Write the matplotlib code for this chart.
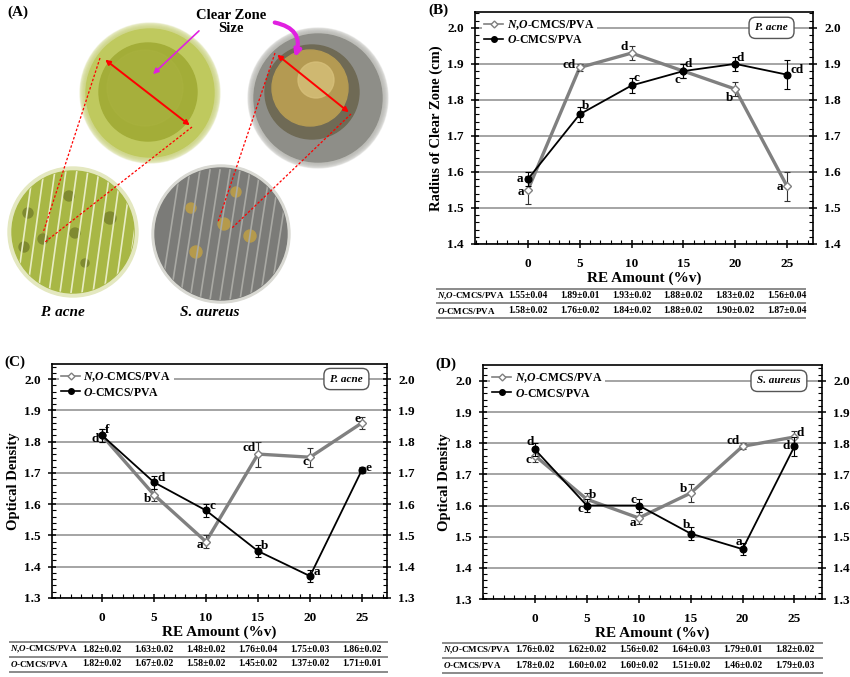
import numpy as np
import matplotlib
matplotlib.use('Agg')
import matplotlib.pyplot as plt
from matplotlib.lines import Line2D
from matplotlib.patches import Circle, FancyArrowPatch
import matplotlib.transforms as mtransforms
from matplotlib.ticker import MultipleLocator, FormatStrFormatter

plt.rcParams.update({
    'font.family': ['Liberation Serif', 'DejaVu Serif'],
    'font.weight': 'bold',
    'mathtext.fontset': 'custom',
    'mathtext.it': 'Liberation Serif:italic:bold',
    'mathtext.rm': 'Liberation Serif:bold',
    'mathtext.bf': 'Liberation Serif:bold',
})

# ---------------- data ----------------
re_amount = [0, 5, 10, 15, 20, 25]
series_labels = [r'$N$,$O$-CMCS/PVA', r'$O$-CMCS/PVA']

# (B) radius of clear zone, P. acne
b_no = [1.55, 1.89, 1.93, 1.88, 1.83, 1.56]
b_no_err = [0.04, 0.01, 0.02, 0.02, 0.02, 0.04]
b_o = [1.58, 1.76, 1.84, 1.88, 1.90, 1.87]
b_o_err = [0.02, 0.02, 0.02, 0.02, 0.02, 0.04]
b_no_letters = ['a', 'cd', 'd', 'c', 'b', 'a']
b_o_letters = ['a', 'b', 'c', 'd', 'd', 'cd']

# (C) optical density, P. acne
c_no = [1.82, 1.63, 1.48, 1.76, 1.75, 1.86]
c_no_err = [0.02, 0.02, 0.02, 0.04, 0.03, 0.02]
c_o = [1.82, 1.67, 1.58, 1.45, 1.37, 1.71]
c_o_err = [0.02, 0.02, 0.02, 0.02, 0.02, 0.01]
c_no_letters = ['d', 'b', 'a', 'cd', 'c', 'e']
c_o_letters = ['f', 'd', 'c', 'b', 'a', 'e']

# (D) optical density, S. aureus
d_no = [1.76, 1.62, 1.56, 1.64, 1.79, 1.82]
d_no_err = [0.02, 0.02, 0.02, 0.03, 0.01, 0.02]
d_o = [1.78, 1.60, 1.60, 1.51, 1.46, 1.79]
d_o_err = [0.02, 0.02, 0.02, 0.02, 0.02, 0.03]
d_no_letters = ['c', 'b', 'a', 'b', 'cd', 'd']
d_o_letters = ['d', 'c', 'c', 'b', 'a', 'd']

# letter placement offsets (pixels)
b_no_off = [(-7, -2), (-11, 2), (-7, 6), (-6, -9), (-6, -9), (-7, -1)]
b_o_off = [(-8, 0), (6, 8), (5, 7), (5, 7), (5, 6), (10, 5)]
c_no_off = [(-7, -4), (-6, -4), (-6, -3), (-9, 6), (-5, -5), (-5, 4)]
c_o_off = [(5, 5), (7, 4), (6, 4), (7, 5), (7, 4), (6, 2)]
d_no_off = [(-6, -4), (6, 4), (-6, -5), (-7, 4), (-9, 5), (6, 4)]
d_o_off = [(-5, 7), (-6, -3), (-5, 6), (-4, 9), (-4, 7), (-8, 0)]

W, H = 850, 677
fig = plt.figure(figsize=(W / 100, H / 100), dpi=100)
fig.patch.set_facecolor('white')

GRAY = '#808080'


def rect(l, r, t, b):
    return [l / W, 1 - b / H, (r - l) / W, (b - t) / H]


def fline(x0, x1, y, color='#8a8a8a', lw=1.4):
    fig.add_artist(Line2D([x0 / W, x1 / W], [1 - y / H, 1 - y / H],
                          transform=fig.transFigure, color=color, lw=lw))


def panel(box, xlim, ylim, ylabel, organism, no, no_err, o, o_err,
          no_let, o_let, no_off, o_off, table, tag, tagpos):
    ax = fig.add_axes(rect(*box))
    ax.set_xlim(*xlim)
    ax.set_ylim(*ylim)
    for y in np.arange(1.3, 2.01, 0.1):
        if ylim[0] - 1e-6 <= y:
            ax.axhline(y, color='#8c8c8c', lw=1.1, zorder=0)
    ax.plot(re_amount, no, color=GRAY, lw=2.4, zorder=2)
    ax.errorbar(re_amount, no, yerr=no_err, fmt='none', ecolor='#333333',
                elinewidth=0.8, capsize=2.2, capthick=0.8, zorder=3)
    ax.plot(re_amount, no, ls='none', marker='D', ms=4.0, mfc='white',
            mec=GRAY, mew=1.0, zorder=4)
    ax.plot(re_amount, o, color='black', lw=1.3, zorder=5)
    ax.errorbar(re_amount, o, yerr=o_err, fmt='none', ecolor='black',
                elinewidth=0.8, capsize=2.2, capthick=0.8, zorder=5)
    ax.plot(re_amount, o, ls='none', marker='o', ms=4.8, mfc='black',
            mec='black', zorder=6)
    for xv, yv, lt, off in zip(re_amount, no, no_let, no_off):
        ax.annotate(lt, (xv, yv), xytext=off, textcoords='offset pixels',
                    ha='center', va='center', fontsize=9.5,
                    fontweight='bold', zorder=7)
    for xv, yv, lt, off in zip(re_amount, o, o_let, o_off):
        ax.annotate(lt, (xv, yv), xytext=off, textcoords='offset pixels',
                    ha='center', va='center', fontsize=9.5,
                    fontweight='bold', zorder=7)
    ax.set_xticks(re_amount)
    ax.xaxis.set_minor_locator(MultipleLocator(1))
    ax.yaxis.set_major_locator(MultipleLocator(0.1))
    ax.yaxis.set_minor_locator(MultipleLocator(0.02))
    ax.yaxis.set_major_formatter(FormatStrFormatter('%.1f'))
    ax.tick_params(axis='y', which='major', direction='inout', length=6,
                   width=1.1, labelsize=9.5, left=True, right=True,
                   labelright=True, pad=5)
    ax.tick_params(axis='y', which='minor', direction='in', length=3,
                   width=0.8, left=True, right=True)
    ax.tick_params(axis='x', which='major', direction='inout', length=6,
                   width=1.1, labelsize=9.5, pad=7)
    ax.tick_params(axis='x', which='minor', direction='in', length=3,
                   width=0.8)
    for s in ax.spines.values():
        s.set_linewidth(1.2)
    ax.set_xlabel('RE Amount (%v)', fontsize=11, fontweight='bold',
                  labelpad=1)
    ax.set_ylabel(ylabel, fontsize=10.5, fontweight='bold', labelpad=3)
    handles = [Line2D([], [], color=GRAY, lw=1.2, marker='D', ms=3.5,
                      mfc='white', mec=GRAY),
               Line2D([], [], color='black', lw=1.2, marker='o', ms=4,
                      mfc='black')]
    leg = ax.legend(handles, series_labels, loc='upper left',
                    bbox_to_anchor=(0.02, 0.985), fontsize=8.5,
                    frameon=True, handlelength=1.6, handletextpad=0.3,
                    borderpad=0.2, labelspacing=0.25, borderaxespad=0)
    leg.get_frame().set_facecolor('white')
    leg.get_frame().set_edgecolor('none')
    leg.get_frame().set_alpha(1)
    leg.set_zorder(8)
    ax.text(23.5, 2.0, organism, fontsize=8, fontstyle='italic',
            fontweight='bold', ha='center', va='center', zorder=9,
            bbox=dict(boxstyle='round,pad=0.55,rounding_size=0.6',
                      fc='white', ec='#555555', lw=1.0))
    # table
    tl, tr, lines, rows = table
    for yl in lines:
        fline(tl, tr, yl)
    trans = mtransforms.blended_transform_factory(ax.transData,
                                                  fig.transFigure)
    for lab, vals, errs, yr in zip(series_labels, [no, o], [no_err, o_err],
                                   rows):
        fig.text(tl / W, 1 - yr / H, lab, fontsize=6.5, ha='left',
                 va='center', fontweight='bold')
        for xv, v, e in zip(re_amount, vals, errs):
            fig.text(xv, 1 - yr / H, f'{v:.2f}\u00b1{e:.2f}', transform=trans,
                     fontsize=7.0, ha='center', va='center',
                     fontweight='bold')
    fig.text(tagpos[0] / W, 1 - tagpos[1] / H, tag, fontsize=11,
             fontweight='bold', ha='left', va='center')
    return ax


panel((475, 813, 12, 244), (-5.1, 27.5), (1.4, 2.044),
      'Radius of Clear Zone (cm)', 'P. acne', b_no, b_no_err, b_o, b_o_err,
      b_no_letters, b_o_letters, b_no_off, b_o_off,
      (437, 805, (289, 303, 318), (296, 311)), '(B)', (428, 10))

panel((52, 387, 364, 598), (-4.8, 27.4), (1.3, 2.048),
      'Optical Density', 'P. acne', c_no, c_no_err, c_o, c_o_err,
      c_no_letters, c_o_letters, c_no_off, c_o_off,
      (10, 387, (642, 657, 672), (649, 664)), '(C)', (4, 362))

panel((483, 822, 365, 599), (-5.0, 27.65), (1.3, 2.051),
      'Optical Density', 'S. aureus', d_no, d_no_err, d_o, d_o_err,
      d_no_letters, d_o_letters, d_no_off, d_o_off,
      (443, 822, (643, 658, 673), (650, 665)), '(D)', (435, 364))

# ---------------- panel (A): schematic of the plate photographs --------
axA = fig.add_axes([0, 1 - 330 / H, 425 / W, 330 / H])
axA.set_xlim(0, 425)
axA.set_ylim(330, 0)
axA.axis('off')


def disc(cx, cy, r, color, **kw):
    c = Circle((cx, cy), r, color=color, **kw)
    axA.add_patch(c)
    return c


# zoomed P. acne well
for k in range(6):
    disc(150, 93, 70 - k, '#c9d27a', alpha=0.25)
disc(150, 93, 64, '#bfc95e')
disc(148, 92, 49, '#a3ad38')
disc(145, 88, 38, '#a9b23f', alpha=0.6)
# zoomed S. aureus well
for k in range(6):
    disc(318, 98, 70 - k, '#b3b3ad', alpha=0.25)
disc(318, 98, 64, '#8e8e88')
disc(312, 92, 47, '#6f6a55')
disc(310, 88, 38, '#b49a52')
disc(316, 80, 18, '#d7c07a', alpha=0.8)
# petri dish P. acne
disc(73, 232, 65, '#e4e8c0')
pa = disc(73, 232, 61, '#a8b745')
for xs in np.arange(15, 140, 11):
    ln, = axA.plot([xs, xs + 18], [300, 170], color='#e8ecc4', lw=1.2)
    ln.set_clip_path(pa)
for (wx, wy, wr) in [(69, 196, 5), (28, 213, 5), (110, 218, 6), (43, 239, 5),
                     (75, 233, 5), (24, 247, 5), (85, 263, 4)]:
    disc(wx, wy, wr, '#7f8a30')
# petri dish S. aureus
disc(221, 234, 69, '#d9d9d3')
sa = disc(221, 234, 66, '#7b7b78')
for xs in np.arange(160, 300, 10):
    ln, = axA.plot([xs, xs + 20], [300, 170], color='#a9a9a4', lw=1.2)
    ln.set_clip_path(sa)
for (wx, wy, wr) in [(191, 208, 5), (236, 192, 5), (224, 224, 6),
                     (250, 236, 6), (196, 252, 6)]:
    disc(wx, wy, wr, '#b59a4c')

# red measurement arrows and dashed guides
for (p0, p1) in [((103, 58), (192, 127)), ((275, 53), (351, 114))]:
    axA.add_patch(FancyArrowPatch(p0, p1, arrowstyle='<|-|>',
                                  mutation_scale=7, color='red', lw=1.4))
for (p0, p1) in [((100, 58), (43, 233)), ((192, 127), (45, 242)),
                 ((275, 53), (218, 222)), ((351, 114), (232, 228))]:
    axA.plot([p0[0], p1[0]], [p0[1], p1[1]], color='red', lw=0.9, ls='--',
             dashes=(2, 1.5))
# magenta pointers
axA.add_patch(FancyArrowPatch((201, 29), (151, 76), arrowstyle='-|>',
                              mutation_scale=8, color='#e020e0', lw=1.2))
axA.add_patch(FancyArrowPatch((272, 22), (294, 60), arrowstyle='-|>',
                              connectionstyle='arc3,rad=-0.6',
                              mutation_scale=9, color='#e020e0', lw=3))
axA.text(231, 22, 'Clear Zone\nSize', ha='center', va='center',
         fontsize=10.5, fontweight='bold', linespacing=1.0)
axA.text(7, 12, '(A)', ha='left', va='center', fontsize=11,
         fontweight='bold')
axA.text(62, 312, 'P. acne', ha='center', va='center', fontsize=11,
         fontstyle='italic', fontweight='bold')
axA.text(210, 312, 'S. aureus', ha='center', va='center', fontsize=11,
         fontstyle='italic', fontweight='bold')

fig.savefig('out.png', dpi=100, facecolor='white')
